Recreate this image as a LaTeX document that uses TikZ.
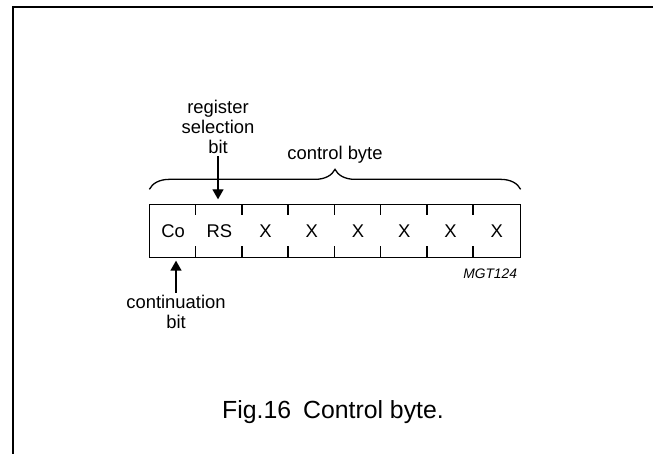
\documentclass[tikz,border=0pt]{standalone}
\usepackage{fontspec}
\setmainfont{Liberation Sans}
\usetikzlibrary{arrows.meta,decorations.pathreplacing,positioning}

\begin{document}
\begin{tikzpicture}[x=0.5pt, y=-0.5pt, >={Triangle[length=5pt,width=5.5pt]},
    font=\fontsize{9.2}{9.8}\selectfont, line width=0.65pt]
  \useasboundingbox (0,0) rectangle (653,454);
  \draw[line width=1pt] (13,454) -- (13,7) -- (653,7);

  % the eight bit cells
  \foreach \i/\txt in {0/Co,1/RS,2/X,3/X,4/X,5/X,6/X,7/X}
    \node[minimum width=23.125pt, minimum height=26pt, inner sep=0pt] (c\i) at ({173.125+46.25*\i},231) {\txt};
  \draw (c0.south west) rectangle (c7.north east);
  \foreach \i in {1,...,7} {
    \draw (c\i.north west) -- ++(0,11);
    \draw (c\i.south west) -- ++(0,-12);
  }

  \draw[decorate, decoration={brace, amplitude=10pt}]
    ([yshift=7.5pt]c0.north west) -- ([yshift=7.5pt]c7.north east)
    node[midway, yshift=17.5pt] (cb) {control byte};

  \node[align=center, inner sep=1pt] (rsbit) at (218,127) {register\\selection\\bit};
  \draw[->] (rsbit.south) -- ([yshift=2.5pt]rsbit.south |- c1.north);

  \node[align=center, inner sep=1pt] (cobit) at (176,312) {continuation\\bit};
  \draw[->] (cobit.north) -- ([yshift=-1.5pt]cobit.north |- c0.south);

  \node[anchor=north east, inner sep=0pt, font=\fontsize{6.9}{8}\selectfont\itshape]
    (mgt) at ([xshift=-1.5pt, yshift=-5.5pt]c7.south east) {MGT124};

  \node[font=\fontsize{12.4}{14}\selectfont] (cap) at (333,412) {Fig.16\hspace{6pt}Control byte.};
\end{tikzpicture}
\end{document}
